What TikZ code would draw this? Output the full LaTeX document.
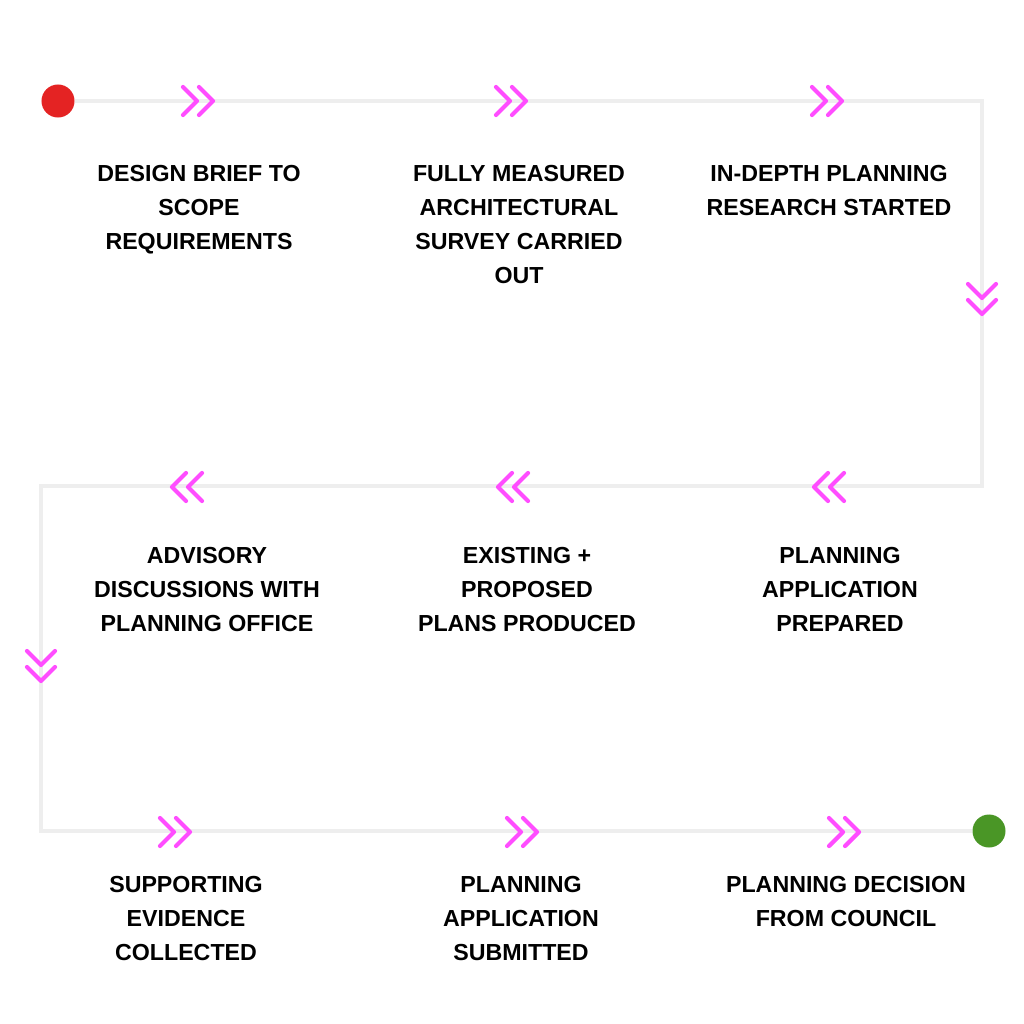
\documentclass[tikz,border=0pt]{standalone}
\usepackage{fontspec}
\setmainfont{Liberation Sans}
\definecolor{track}{RGB}{238,238,238}
\definecolor{chevpink}{RGB}{255,77,255}
\definecolor{startred}{RGB}{228,35,35}
\definecolor{endgreen}{RGB}{74,150,38}
\tikzset{
  steptext/.style={align=center,anchor=north,font=\fontsize{6.6pt}{9.6pt}\selectfont\bfseries,inner sep=0pt},
  enddot/.style={circle,minimum size=0.33cm,inner sep=0pt},
  chevron/.pic={\draw[chevpink,line width=1.2pt,line cap=round,line join=round]
    (-16,-14) -- (-2,0) -- (-16,14) (0,-14) -- (14,0) -- (0,14);}
}
\begin{document}
\begin{tikzpicture}[x=0.01cm,y=-0.01cm]
\useasboundingbox (0,0) rectangle (1024,1024);
\coordinate (c1) at (982,101);
\coordinate (c2) at (982,486);
\coordinate (c3) at (41,486);
\coordinate (c4) at (41,831);
\node[enddot,fill=startred] (start) at (58,101) {};
\node[enddot,fill=endgreen] (finish) at (989,831) {};
\draw[track,line width=1.4pt] (start) -- (c1) -- (c2) -- (c3) -- (c4) -- (finish);
% chevrons
\foreach \x/\y/\a in {199/101/0,512/101/0,828/101/0,982/300/-90,186/487/180,512/487/180,828/487/180,41/667/-90,176/832/0,523/832/0,845/832/0}
  \pic[rotate=\a] at (\x,\y) {chevron};
% row 1
\node[steptext] (brief) at (199,165) {DESIGN BRIEF TO\\SCOPE\\REQUIREMENTS};
\node[steptext] (survey) at (519,165) {FULLY MEASURED\\ARCHITECTURAL\\SURVEY CARRIED\\OUT};
\node[steptext] (research) at (829,165) {IN-DEPTH PLANNING\\RESEARCH STARTED};
% row 2
\node[steptext] (advisory) at (207,547) {ADVISORY\\DISCUSSIONS WITH\\PLANNING OFFICE};
\node[steptext] (plans) at (527,547) {EXISTING +\\PROPOSED\\PLANS PRODUCED};
\node[steptext] (prepared) at (840,547) {PLANNING\\APPLICATION\\PREPARED};
% row 3
\node[steptext] (evidence) at (186,876) {SUPPORTING\\EVIDENCE\\COLLECTED};
\node[steptext] (submitted) at (521,876) {PLANNING\\APPLICATION\\SUBMITTED};
\node[steptext] (decision) at (846,876) {PLANNING DECISION\\FROM COUNCIL};
\end{tikzpicture}
\end{document}
